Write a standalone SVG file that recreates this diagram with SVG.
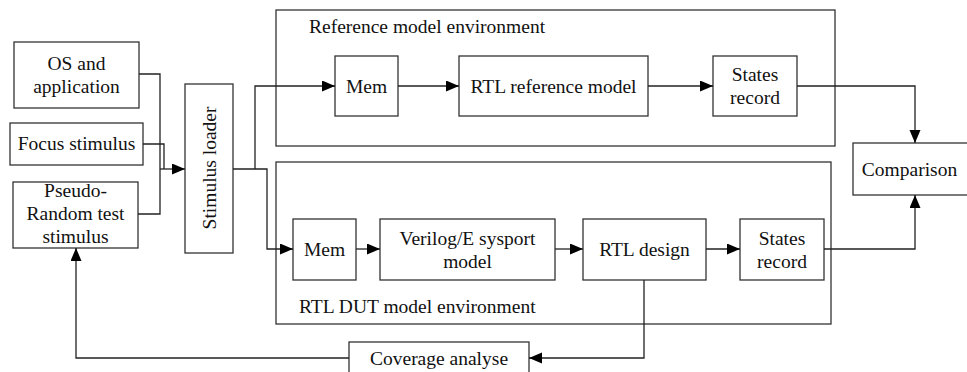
<svg xmlns="http://www.w3.org/2000/svg" width="967" height="372" viewBox="0 0 967 372">
<defs>
<marker id="ah" markerUnits="userSpaceOnUse" markerWidth="14" markerHeight="12" refX="13" refY="5.5" orient="auto">
<path d="M0,0 L13,5.5 L0,11 Z" fill="#000"/>
</marker>
<style>
rect{fill:#fff;stroke:#333;stroke-width:1.3}
.env{fill:none}
text{font-family:"Liberation Serif","Times New Roman",serif;font-size:19.5px;fill:#111;text-anchor:middle}
.l{text-anchor:start}
.c path{fill:none;stroke:#222;stroke-width:1.3}
</style>
</defs>
<rect width="967" height="372" style="fill:#fff;stroke:none"/>

<g id="env-ref"><rect class="env" x="276" y="10" width="559" height="136"/><text class="l" x="309" y="33">Reference model environment</text></g>
<g id="env-dut"><rect class="env" x="276" y="162" width="555" height="162"/><text class="l" x="299" y="313">RTL DUT model environment</text></g>

<g id="os"><rect x="14" y="42" width="125" height="66"/><text x="76.5" y="70">OS and</text><text x="76.5" y="93">application</text></g>
<g id="focus"><rect x="10" y="123" width="133" height="42"/><text x="76.5" y="150">Focus stimulus</text></g>
<g id="pseudo"><rect x="13" y="182" width="125" height="66"/><text x="75.5" y="197">Pseudo-</text><text x="75.5" y="220">Random test</text><text x="75.5" y="243">stimulus</text></g>
<g id="loader"><rect x="185" y="84" width="48" height="169"/><text transform="translate(215.5,168) rotate(-90)">Stimulus loader</text></g>

<g id="mem-ref"><rect x="335" y="56" width="63" height="60"/><text x="366.5" y="92.5">Mem</text></g>
<g id="rtl-ref"><rect x="459" y="56" width="189" height="60"/><text x="553.5" y="92.5">RTL reference model</text></g>
<g id="states-ref"><rect x="713" y="56" width="84" height="60"/><text x="755" y="81">States</text><text x="755" y="104">record</text></g>

<g id="mem-dut"><rect x="293" y="219" width="63" height="61"/><text x="324.5" y="256">Mem</text></g>
<g id="verilog"><rect x="380" y="219" width="175" height="61"/><text x="467.5" y="244.5">Verilog/E sysport</text><text x="467.5" y="267.5">model</text></g>
<g id="rtl-design"><rect x="583" y="219" width="123" height="61"/><text x="644.5" y="256">RTL design</text></g>
<g id="states-dut"><rect x="740" y="219" width="84" height="61"/><text x="782" y="244.5">States</text><text x="782" y="267.5">record</text></g>

<g id="comparison"><rect x="853" y="143" width="125" height="52"/><text x="909.5" y="175.5">Comparison</text></g>
<g id="coverage"><rect x="349" y="342" width="180" height="40"/><text x="439" y="365">Coverage analyse</text></g>

<g class="c" id="connectors">
<path d="M139,74 H160 V169"/>
<path d="M143,144 H164 V169"/>
<path d="M138,214 H160 V169"/>
<path d="M160,169 H185" marker-end="url(#ah)"/>
<path d="M233,169 H267 V249 H293" marker-end="url(#ah)"/>
<path d="M255,169 V86 H335" marker-end="url(#ah)"/>
<path d="M398,86 H459" marker-end="url(#ah)"/>
<path d="M648,86 H713" marker-end="url(#ah)"/>
<path d="M797,86 H915 V143" marker-end="url(#ah)"/>
<path d="M356,249 H380" marker-end="url(#ah)"/>
<path d="M555,249 H583" marker-end="url(#ah)"/>
<path d="M706,249 H740" marker-end="url(#ah)"/>
<path d="M824,249 H915 V195" marker-end="url(#ah)"/>
<path d="M644,280 V358 H529" marker-end="url(#ah)"/>
<path d="M349,358 H76 V248" marker-end="url(#ah)"/>
</g>
</svg>
